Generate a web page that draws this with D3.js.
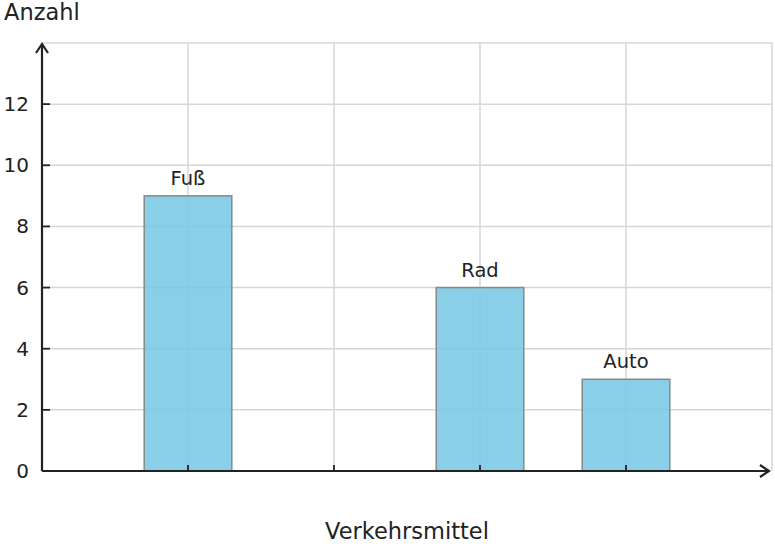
<!DOCTYPE html>
<html><head><meta charset="utf-8">
<script src="https://cdn.jsdelivr.net/npm/d3@7"></script>
<style>body{margin:0;background:#fff}svg{display:block;font-family:"DejaVu Sans",sans-serif}</style>
</head><body><svg id="c" width="775" height="548"></svg>
<script>
const categories = ["Fuß", "", "Rad", "Auto"];
const values = [9, 0, 6, 3];
const yTicks = [0, 2, 4, 6, 8, 10, 12];
const yLabel = "Anzahl";
const xLabel = "Verkehrsmittel";

const svg = d3.select("#c");
const x = d3.scaleLinear().domain([0, 5]).range([42, 772]);
const y = d3.scaleLinear().domain([0, 14]).range([471, 43]);
const data = categories.map((c, i) => ({c, v: values[i], p: i + 1}));

// grid
const g = svg.append("g").attr("stroke", "#d6d6d6").attr("stroke-width", 1.5);
d3.range(2, 15, 2).forEach(v => g.append("line").attr("x1", x(0)).attr("x2", x(5)).attr("y1", y(v)).attr("y2", y(v)));
d3.range(1, 6).forEach(v => g.append("line").attr("x1", x(v)).attr("x2", x(v)).attr("y1", y(0)).attr("y2", y(14)));

// bars
const bw = (x(1) - x(0)) * 0.6;
svg.append("g").selectAll("rect").data(data.filter(d => d.v > 0)).join("rect")
  .attr("x", d => x(d.p) - bw / 2).attr("width", bw)
  .attr("y", d => y(d.v)).attr("height", d => y(0) - y(d.v))
  .attr("fill", "rgb(120,200,228)").attr("fill-opacity", 0.88)
  .attr("stroke", "#888").attr("stroke-width", 1.5);

svg.append("g").selectAll("text").data(data.filter(d => d.v > 0)).join("text")
  .attr("x", d => x(d.p)).attr("y", d => y(d.v) - 11)
  .attr("text-anchor", "middle").attr("font-size", 19.5).attr("fill", "#222")
  .text(d => d.c);

// axes
const ax = svg.append("g").attr("stroke", "#222").attr("stroke-width", 2.2).attr("fill", "none");
ax.append("line").attr("x1", x(0)).attr("x2", 768).attr("y1", y(0)).attr("y2", y(0));
ax.append("line").attr("x1", x(0)).attr("x2", x(0)).attr("y1", y(0)).attr("y2", 46);
ax.append("path").attr("d", `M${760},${y(0)-6}L${769},${y(0)}L${760},${y(0)+6}`).attr("stroke-linejoin","miter");
ax.append("path").attr("d", `M${x(0)-6},${53}L${x(0)},${44}L${x(0)+6},${53}`);
// ticks
yTicks.filter(v => v > 0).forEach(v => ax.append("line").attr("x1", x(0)).attr("x2", x(0) + 8).attr("y1", y(v)).attr("y2", y(v)).attr("stroke-width", 1.8));
[1, 2, 3, 4].forEach(v => ax.append("line").attr("x1", x(v)).attr("x2", x(v)).attr("y1", y(0)).attr("y2", y(0) - 6).attr("stroke-width", 1.8));

svg.append("g").selectAll("text").data(yTicks).join("text")
  .attr("x", 29).attr("y", d => y(d) + 7).attr("text-anchor", "end")
  .attr("font-size", 20).attr("fill", "#222").text(d => d);

svg.append("text").attr("x", 4).attr("y", 20).attr("font-size", 22.5).attr("fill", "#222").text(yLabel);
svg.append("text").attr("x", 407).attr("y", 539).attr("text-anchor", "middle").attr("font-size", 22.5).attr("fill", "#222").text(xLabel);
</script></body></html>
